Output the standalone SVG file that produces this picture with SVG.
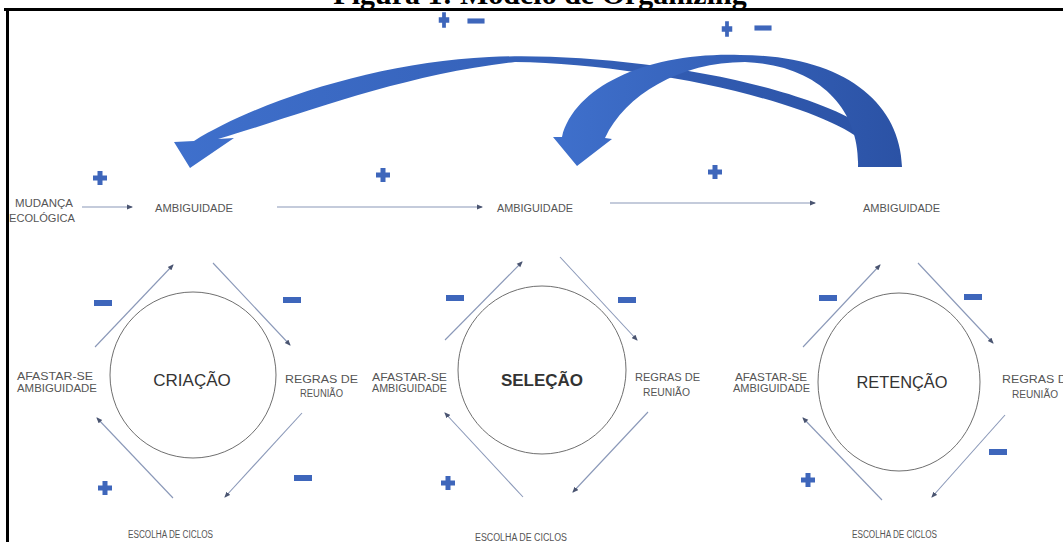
<svg xmlns="http://www.w3.org/2000/svg" width="1063" height="542" viewBox="0 0 1063 542">
<style>
.lbl{font-family:"Liberation Sans",Arial,sans-serif;font-size:10px;fill:#555;}
.big{font-family:"Liberation Sans",Arial,sans-serif;font-size:17px;fill:#333;text-anchor:middle;}
.ln{stroke:#8a98b8;stroke-width:1.1;fill:none;marker-end:url(#ah);}
.circ{fill:none;stroke:#6f6f6f;stroke-width:1;}
.sign{fill:#3e66bb;}
.title{font-family:"Liberation Serif","Times New Roman",serif;font-size:30px;font-weight:bold;fill:#000;text-anchor:middle;}
</style>
<defs>
<marker id="ah" markerWidth="6" markerHeight="6" refX="5" refY="3" orient="auto" markerUnits="userSpaceOnUse">
<path d="M0,0.5 L6,3 L0,5.5 Z" fill="#4a5470"/>
</marker>
<linearGradient id="bg" x1="0" y1="0" x2="1" y2="0">
<stop offset="0" stop-color="#3f70cc"/>
<stop offset="1" stop-color="#2b52a5"/>
</linearGradient>
<path id="plus" d="M-2.5,-7 h5 v4.5 h4.5 v5 h-4.5 v4.5 h-5 v-4.5 h-4.5 v-5 h4.5 z"/>
<rect id="minus" x="-9" y="-3" width="18" height="6"/>
</defs>
<rect width="1063" height="542" fill="#fff"/>
<text class="title" x="540" y="4">Figura 1: Modelo de Organizing</text>

<g id="feedback-arrows">
<path id="arrow-long" fill="url(#bg)" d="M190,168 L174,142 L194,141 C260,100 380,62 489,57 C640,50 885,95 900,167 L872,150 C835,105 650,64 515,62 C400,75 300,115 218,139 L234,138 Z"/>
<path id="arrow-short" fill="url(#bg)" d="M577,166 L553,137 L562,137 C575,85 650,52 740,55 C840,55 900,100 902,167 L858,167 C860,110 820,65 745,62 C680,62 625,95 605,138 L612,139 Z"/>
</g>

<g id="connectors">
<line class="ln" x1="82" y1="207" x2="132" y2="207"/>
<line class="ln" x1="277" y1="207" x2="482" y2="207"/>
<line class="ln" x1="610" y1="203" x2="815" y2="203"/>
<line class="ln" x1="95" y1="347" x2="173" y2="265"/>
<line class="ln" x1="213" y1="263" x2="290" y2="345"/>
<line class="ln" x1="302" y1="413" x2="225" y2="497"/>
<line class="ln" x1="173" y1="498" x2="97" y2="418"/>
<line class="ln" x1="445" y1="340" x2="522" y2="262"/>
<line class="ln" x1="560" y1="257" x2="637" y2="340"/>
<line class="ln" x1="648" y1="412" x2="573" y2="492"/>
<line class="ln" x1="523" y1="497" x2="445" y2="413"/>
<line class="ln" x1="803" y1="347" x2="880" y2="265"/>
<line class="ln" x1="918" y1="263" x2="993" y2="343"/>
<line class="ln" x1="1005" y1="415" x2="932" y2="497"/>
<line class="ln" x1="882" y1="500" x2="803" y2="418"/>
</g>

<g id="mudanca"><text class="lbl" x="15" y="207" textLength="58" lengthAdjust="spacingAndGlyphs">MUDANÇA</text><text class="lbl" x="9" y="222" textLength="66" lengthAdjust="spacingAndGlyphs">ECOLÓGICA</text></g>
<g id="ambiguidade-1"><text class="lbl" x="155" y="212" textLength="78" lengthAdjust="spacingAndGlyphs">AMBIGUIDADE</text></g>
<g id="ambiguidade-2"><text class="lbl" x="497" y="212" textLength="76" lengthAdjust="spacingAndGlyphs">AMBIGUIDADE</text></g>
<g id="ambiguidade-3"><text class="lbl" x="863" y="212" textLength="77" lengthAdjust="spacingAndGlyphs">AMBIGUIDADE</text></g>

<g id="criacao"><circle class="circ" cx="193" cy="375" r="83"/><text class="big" x="192" y="386">CRIAÇÃO</text></g>
<g id="selecao"><circle class="circ" cx="542" cy="370" r="84"/><text class="big" x="542" y="386" font-weight="bold">SELEÇÃO</text></g>
<g id="retencao"><ellipse class="circ" cx="899" cy="382" rx="81" ry="89"/><text class="big" x="902" y="388" textLength="91" lengthAdjust="spacingAndGlyphs">RETENÇÃO</text></g>

<g id="afastar-1"><text class="lbl" x="17" y="380" textLength="76" lengthAdjust="spacingAndGlyphs">AFASTAR-SE</text><text class="lbl" x="17" y="392" textLength="80" lengthAdjust="spacingAndGlyphs">AMBIGUIDADE</text></g>
<g id="regras-1"><text class="lbl" x="285" y="383" textLength="73" lengthAdjust="spacingAndGlyphs">REGRAS DE</text><text class="lbl" x="300" y="397" textLength="43" lengthAdjust="spacingAndGlyphs">REUNIÃO</text></g>
<g id="escolha-1"><text class="lbl" x="128" y="538" textLength="85" lengthAdjust="spacingAndGlyphs">ESCOLHA DE CICLOS</text></g>

<g id="afastar-2"><text class="lbl" x="372" y="381" textLength="75" lengthAdjust="spacingAndGlyphs">AFASTAR-SE</text><text class="lbl" x="372" y="392" textLength="75" lengthAdjust="spacingAndGlyphs">AMBIGUIDADE</text></g>
<g id="regras-2"><text class="lbl" x="635" y="381" textLength="65" lengthAdjust="spacingAndGlyphs">REGRAS DE</text><text class="lbl" x="643" y="396" textLength="47" lengthAdjust="spacingAndGlyphs">REUNIÃO</text></g>
<g id="escolha-2"><text class="lbl" x="475" y="541" textLength="92" lengthAdjust="spacingAndGlyphs">ESCOLHA DE CICLOS</text></g>

<g id="afastar-3"><text class="lbl" x="735" y="381" textLength="72" lengthAdjust="spacingAndGlyphs">AFASTAR-SE</text><text class="lbl" x="733" y="392" textLength="77" lengthAdjust="spacingAndGlyphs">AMBIGUIDADE</text></g>
<g id="regras-3"><text class="lbl" x="1002" y="383" textLength="73" lengthAdjust="spacingAndGlyphs">REGRAS DE</text><text class="lbl" x="1012" y="398" textLength="46" lengthAdjust="spacingAndGlyphs">REUNIÃO</text></g>
<g id="escolha-3"><text class="lbl" x="852" y="538" textLength="85" lengthAdjust="spacingAndGlyphs">ESCOLHA DE CICLOS</text></g>

<g id="signs" class="sign">
<use href="#plus" transform="translate(444,20) scale(0.75,1.1)"/>
<use href="#minus" transform="translate(476,21) scale(0.95,0.85)"/>
<use href="#plus" transform="translate(727,29) scale(0.75,1.1)"/>
<use href="#minus" transform="translate(763,28) scale(0.95,0.85)"/>
<use href="#plus" x="100" y="178"/>
<use href="#plus" x="383" y="175"/>
<use href="#plus" x="715" y="172"/>
<use href="#minus" x="103" y="303"/>
<use href="#minus" x="292" y="300"/>
<use href="#minus" x="303" y="478"/>
<use href="#plus" x="105" y="488"/>
<use href="#minus" x="455" y="298"/>
<use href="#minus" x="627" y="300"/>
<use href="#plus" x="448" y="483"/>
<use href="#minus" x="828" y="298"/>
<use href="#minus" x="973" y="297"/>
<use href="#minus" x="998" y="452"/>
<use href="#plus" x="808" y="480"/>
</g>

<g id="frame" stroke="#000" stroke-width="3">
<line x1="4" y1="9.5" x2="1063" y2="9.5"/>
<line x1="7.5" y1="8" x2="7.5" y2="542"/>
</g>
</svg>
